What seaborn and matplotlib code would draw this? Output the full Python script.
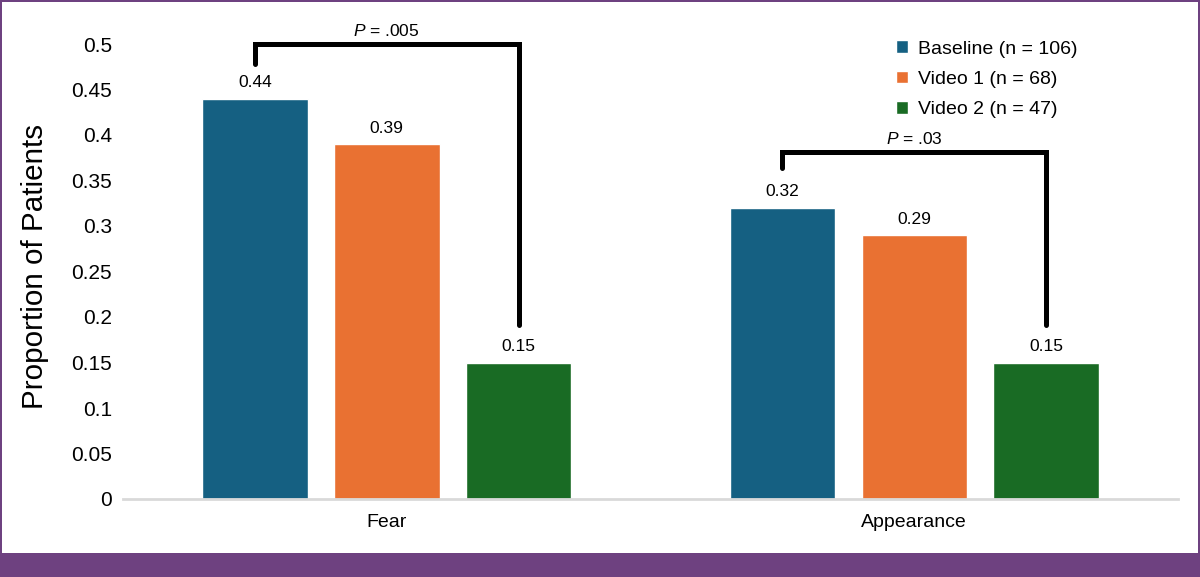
import numpy             as np
import matplotlib
matplotlib.use('Agg')
import matplotlib.pyplot as plt
import pandas            as pd
import seaborn           as sns
from matplotlib.patches import Rectangle

## Data
categories = ['Fear', 'Appearance']
groups     = ['Baseline (n = 106)', 'Video 1 (n = 68)', 'Video 2 (n = 47)']
baseline   = [0.44, 0.32]
video1     = [0.39, 0.29]
video2     = [0.15, 0.15]
p_labels   = ['$\\it{P}$ = .005', '$\\it{P}$ = .03']

colors = ['#156082', '#E97132', '#196B24']
purple = '#6E4180'

df = pd.DataFrame({'category': categories * 3,
                   'group'   : [groups[0]] * 2 + [groups[1]] * 2 + [groups[2]] * 2,
                   'value'   : baseline + video1 + video2})

sns.set_theme(style = 'white')
plt.rcParams['font.family'] = ['Liberation Sans', 'DejaVu Sans']
plt.rcParams['mathtext.fontset'] = 'custom'
plt.rcParams['mathtext.it'] = 'Liberation Sans:italic'
plt.rcParams['mathtext.rm'] = 'Liberation Sans'
for k in ['text.color', 'axes.labelcolor', 'xtick.color', 'ytick.color']:
    plt.rcParams[k] = 'black'

fig = plt.figure(figsize = (12, 5.77), dpi = 100)
fig.patch.set_facecolor(purple)
fig.patches.append(Rectangle((2/1200, 24/577), 1196/1200, 551/577,
                             transform = fig.transFigure, facecolor = 'white',
                             edgecolor = 'none', zorder = -10))

ax = fig.add_axes([123/1200, 78/577, 1055/1200, 455/577])
ax.set_facecolor('none')
sns.barplot(data = df, x = 'category', y = 'value', hue = 'group',
            palette = colors, width = 0.75, gap = 0.2, saturation = 1,
            ax = ax, legend = True)

ax.set_ylim(0, 0.5)
ax.set_xlim(-0.5, 1.5)
ax.set_yticks(np.arange(0, 0.51, 0.05))
ax.set_yticklabels([f'{v:g}' for v in np.round(np.arange(0, 0.51, 0.05), 2)])
ax.tick_params(axis = 'y', labelsize = 15, pad = 8, length = 0)
ax.tick_params(axis = 'x', labelsize = 14, pad = 11, length = 0)
ax.set_xlabel('')
ax.set_ylabel('Proportion of Patients', fontsize = 21.3)
ax.yaxis.set_label_coords(-0.070, 0.512)

for s in ['top', 'right', 'left']:
    ax.spines[s].set_visible(False)
ax.spines['bottom'].set_color('#D9D9D9')
ax.spines['bottom'].set_linewidth(2)

for cont in ax.containers:
    ax.bar_label(cont, fmt = '%.2f', padding = 6, fontsize = 12.5)

## Legend
handles, labels = ax.get_legend_handles_labels()
ax.legend(handles, labels, loc = 'upper left', bbox_to_anchor = (0.733, 1.008),
          frameon = False, fontsize = 14, handlelength = 0.62, handleheight = 0.62,
          handletextpad = 0.5, labelspacing = 0.68, borderpad = 0, borderaxespad = 0)

## Significance brackets: baseline vs video 2
bracket_top  = [0.5, 0.381]
left_bottom  = [0.478, 0.364]
right_bottom = [0.191, 0.191]
for i in range(len(categories)):
    b0 = ax.containers[0][i]
    b2 = ax.containers[2][i]
    x0 = b0.get_x() + b0.get_width() / 2
    x2 = b2.get_x() + b2.get_width() / 2
    ax.plot([x0, x0, x2, x2], [left_bottom[i], bracket_top[i], bracket_top[i], right_bottom[i]],
            color = 'black', lw = 3.6, solid_joinstyle = 'miter', clip_on = False)
    ax.text((x0 + x2) / 2, bracket_top[i] + 0.006, p_labels[i], ha = 'center',
            va = 'bottom', fontsize = 12.5)

fig.savefig('out.png', dpi = 100, facecolor = fig.get_facecolor())
